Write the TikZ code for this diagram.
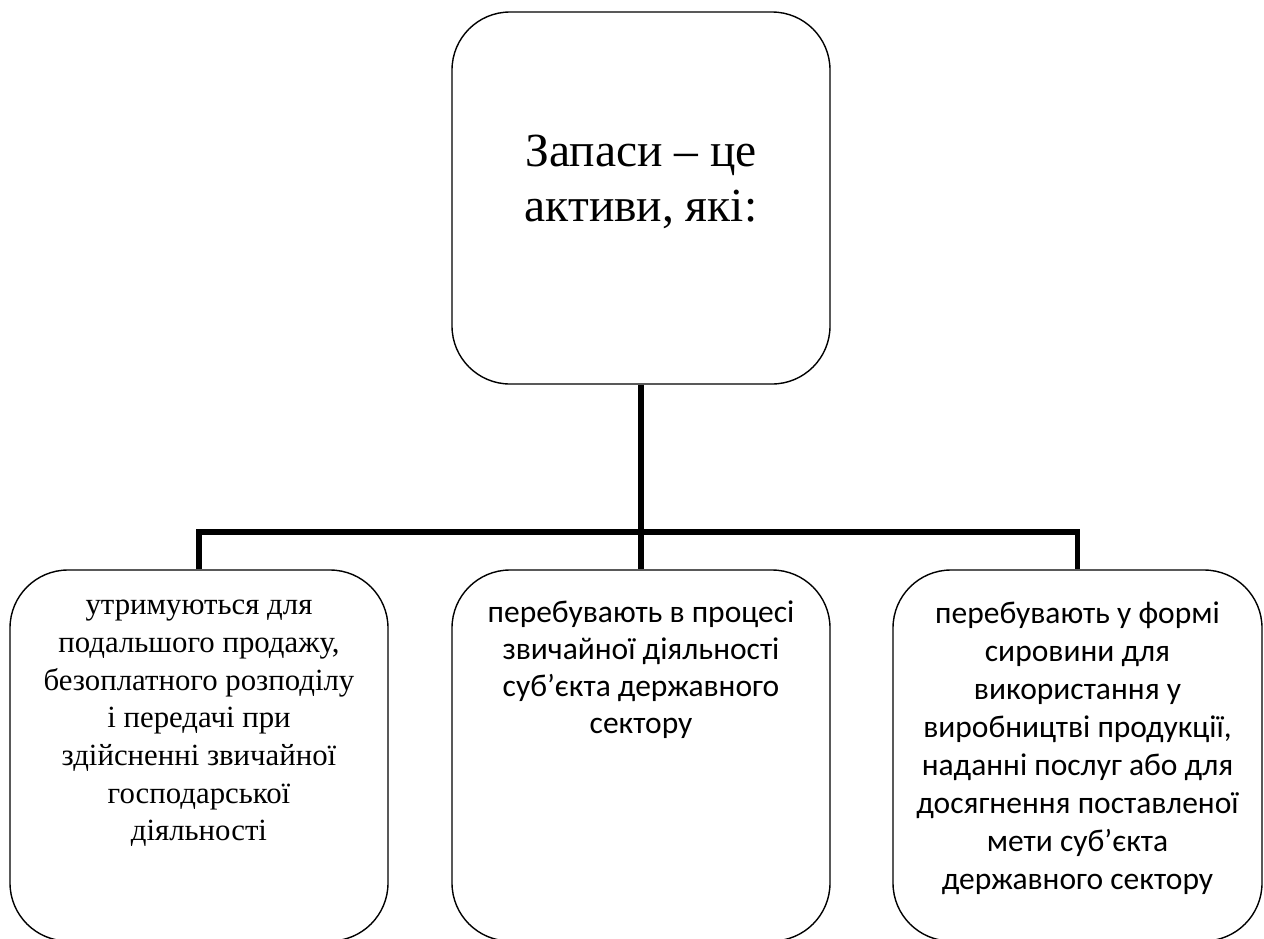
\documentclass[tikz,border=0pt]{standalone}
\usepackage{fontspec}
\setmainfont{Liberation Serif}
\newfontfamily\kalibri{Carlito}
\usepackage{tikz}
\tikzset{
  blok/.style={draw, shape=rectangle, rounded corners=58pt, line width=1.4pt, inner sep=0pt,
    minimum width=378pt, minimum height=371pt},
  napys/.style={anchor=north, inner sep=0pt, align=center},
  zvjazok/.style={line width=5.5pt, line join=miter}}

\begin{document}
\begin{tikzpicture}[x=1pt, y=-1pt]
  \useasboundingbox (0,0) rectangle (1264,938);
  % verkhnij blok
  \node (zap) [blok, minimum height=372pt] at (641,198) {};
  \node (zaptxt) [napys, font={\fontsize{47.5}{55}\selectfont}] at (641,135)
    {Запаси -- це\\ активи, які:};
  % nyzhni bloky
  \node (kl) [blok] at (199,755.5) {};
  \node (ks) [blok] at (641,755.5) {};
  \node (kp) [blok, minimum width=369pt] at (1077.5,755.5) {};
  \node (kltxt) [napys, font={\fontsize{30.8}{37.7}\selectfont}] at (199,600)
    {утримуються для\\ подальшого продажу,\\ безоплатного розподілу\\ і передачі при\\
    здійсненні звичайної\\ господарської\\ діяльності};
  \node (kstxt) [napys, font={\kalibri\fontsize{31.5}{37}\selectfont}] at (641,601)
    {перебувають в процесі\\ звичайної діяльності\\ суб’єкта державного\\ сектору};
  \node (kptxt) [napys, font={\kalibri\fontsize{31.5}{37.9}\selectfont}] at (1077.5,602)
    {перебувають у формі\\ сировини для\\ використання у\\ виробництві продукції,\\
    наданні послуг або для\\ досягнення поставленої\\ мети суб’єкта\\ державного сектору};
  % z'jednannja
  \coordinate (rozg) at (641,532);
  \draw[zvjazok] (zap.south) -- (ks.north);
  \draw[zvjazok] (kl.north) -- (kl.north |- rozg) -- (kp.north |- rozg) -- (kp.north);
\end{tikzpicture}
\end{document}
